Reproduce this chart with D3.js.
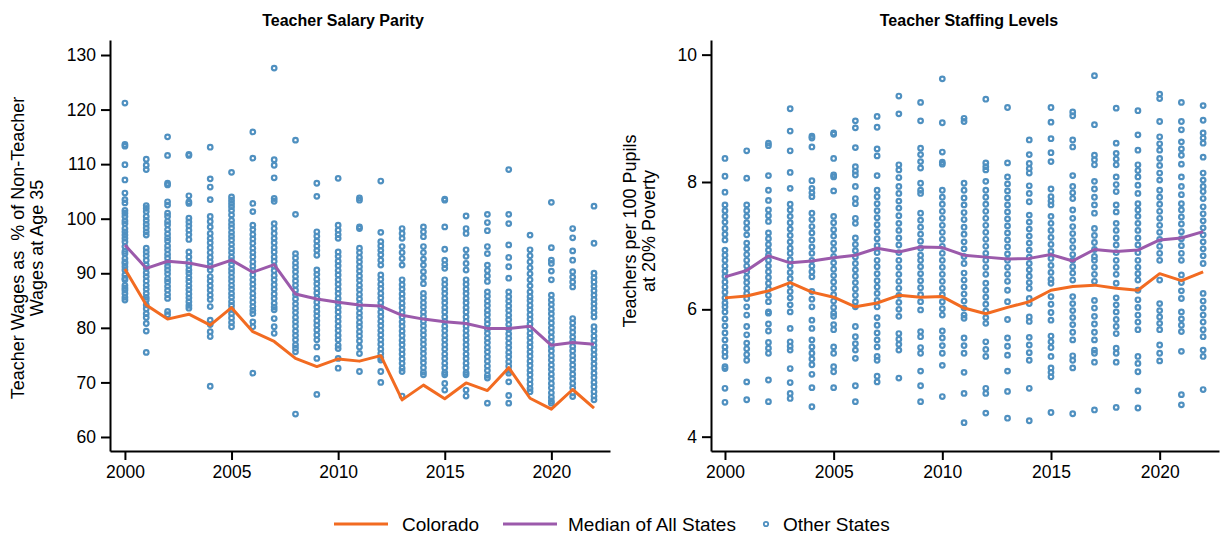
<!DOCTYPE html>
<html>
<head>
<meta charset="utf-8">
<script src="https://cdn.jsdelivr.net/npm/d3@7"></script>
<style>
  body { margin: 0; background: #fff; }
  svg text { font-family: "Liberation Sans", Arial, sans-serif; fill: #000; }
</style>
</head>
<body>
<div id="chart"></div>
<script>
// years and tick labels
const years = d3.range(2000, 2023);
const xTicks = [2000, 2005, 2010, 2015, 2020];
const wageTicks = [60, 70, 80, 90, 100, 110, 120, 130];
const staffTicks = [4, 6, 8, 10];

// Teacher Salary Parity (%)
const coWages = [90.8, 84.2, 81.6, 82.5, 80.5, 83.7, 79.3, 77.5, 74.4, 72.9, 74.3, 73.9, 74.9, 66.8, 69.5, 67.0, 69.9, 68.5, 72.7, 67.1, 65.1, 68.7, 65.3];
const medWages = [95.2, 90.9, 92.2, 91.9, 91.1, 92.4, 90.2, 91.6, 86.2, 85.3, 84.7, 84.2, 84.0, 82.3, 81.6, 81.1, 80.8, 79.9, 79.9, 80.3, 76.8, 77.3, 77.0];
const otherWages = [
  [121.2, 113.6, 113.3, 109.9, 107.1, 104.7, 103.5, 102.9, 101.5, 101.0, 100.4, 99.6, 99.1, 98.2, 97.6, 97.0, 96.4, 95.8, 94.9, 94.0, 93.6, 92.7, 92.1, 91.8, 91.2, 90.6, 89.7, 89.1, 88.8, 87.8, 87.3, 86.9, 86.3, 85.6, 85.1],
  [110.9, 109.8, 109.0, 102.4, 101.9, 101.3, 100.4, 99.7, 99.0, 98.3, 97.6, 97.0, 94.6, 93.9, 93.2, 92.4, 91.5, 90.9, 90.1, 89.4, 88.6, 87.8, 87.1, 86.3, 85.6, 85.1, 84.2, 83.5, 82.6, 81.9, 80.8, 79.4, 75.5],
  [115.0, 111.6, 106.5, 106.2, 103.1, 102.5, 101.0, 100.4, 99.5, 98.9, 98.0, 97.2, 96.5, 95.9, 95.0, 94.3, 93.5, 92.8, 92.0, 91.3, 90.6, 89.9, 89.0, 88.4, 87.6, 86.9, 86.1, 85.4, 83.0, 82.4],
  [111.8, 111.6, 104.2, 103.1, 102.8, 100.1, 99.4, 98.7, 97.9, 97.1, 96.2, 93.9, 93.0, 92.1, 91.4, 90.6, 90.0, 89.2, 88.5, 87.7, 87.0, 86.2, 85.5, 84.8, 84.1, 83.6],
  [113.1, 107.3, 105.8, 103.5, 100.4, 99.5, 98.5, 97.3, 96.4, 95.6, 94.7, 93.8, 92.9, 92.1, 91.3, 90.6, 89.4, 88.6, 87.7, 86.9, 86.0, 85.2, 83.9, 81.4, 80.6, 79.3, 78.4, 69.3],
  [108.5, 104.0, 103.4, 102.8, 102.2, 101.5, 100.7, 99.7, 99.0, 98.3, 97.5, 96.8, 96.1, 95.3, 94.5, 93.8, 93.0, 92.3, 91.6, 90.8, 90.1, 89.3, 88.6, 87.8, 87.1, 86.3, 85.6, 84.8, 84.1, 83.4, 82.6, 81.8, 81.0, 80.2],
  [115.9, 111.1, 102.8, 101.3, 98.8, 98.0, 97.1, 96.3, 95.5, 94.6, 93.8, 93.0, 92.1, 91.3, 90.5, 89.7, 88.8, 88.0, 87.2, 86.3, 85.5, 84.7, 83.9, 83.2, 82.6, 81.1, 80.2, 71.7],
  [127.6, 110.8, 109.8, 107.5, 103.7, 103.2, 99.1, 98.2, 97.3, 96.4, 95.6, 94.7, 93.9, 93.0, 92.2, 91.3, 90.5, 89.6, 88.8, 87.9, 87.1, 86.2, 85.4, 84.5, 83.8, 83.3, 81.7, 80.2, 79.0],
  [114.4, 100.8, 93.6, 92.8, 91.9, 91.1, 90.3, 89.4, 88.6, 87.8, 86.9, 86.1, 85.3, 84.4, 83.6, 82.8, 81.9, 81.1, 80.3, 79.4, 78.6, 77.8, 76.9, 76.3, 75.6, 64.2],
  [106.5, 104.1, 97.6, 96.8, 95.9, 95.0, 94.2, 93.3, 90.6, 89.8, 88.9, 88.1, 87.2, 86.4, 85.5, 84.7, 83.8, 83.0, 82.2, 81.3, 80.5, 79.6, 78.7, 77.8, 76.5, 74.4, 67.8],
  [107.4, 98.8, 97.9, 97.1, 96.4, 93.9, 93.1, 92.2, 91.4, 90.5, 89.7, 88.8, 88.0, 87.1, 86.3, 85.4, 84.6, 83.7, 82.9, 82.0, 81.2, 80.3, 79.5, 78.6, 77.8, 76.8, 76.2, 74.4, 72.6],
  [103.8, 103.4, 98.5, 98.2, 94.6, 93.8, 92.9, 92.1, 91.2, 90.4, 89.5, 88.7, 87.8, 87.0, 86.1, 85.3, 84.4, 83.6, 82.7, 81.9, 81.0, 80.2, 79.3, 78.5, 77.6, 76.5, 75.3, 72.0],
  [106.9, 97.5, 95.8, 95.0, 94.2, 93.4, 92.4, 91.5, 89.7, 88.9, 88.0, 87.2, 86.3, 85.5, 84.6, 83.8, 82.9, 82.1, 81.2, 80.4, 79.5, 78.7, 77.8, 77.0, 76.1, 75.3, 74.5, 74.1, 72.0, 70.0],
  [98.2, 97.3, 96.4, 94.9, 93.8, 92.7, 91.5, 88.8, 87.9, 87.1, 86.2, 85.4, 84.5, 83.7, 82.8, 82.0, 81.1, 80.3, 79.4, 78.6, 77.7, 76.9, 76.0, 75.2, 74.3, 73.5, 72.6, 72.0, 67.5],
  [98.5, 97.6, 96.7, 94.9, 93.8, 92.6, 91.5, 90.3, 89.2, 88.1, 86.3, 85.5, 84.6, 83.8, 82.9, 82.1, 81.2, 80.4, 79.5, 78.7, 77.8, 77.0, 76.1, 75.3, 74.4, 73.6, 72.7, 71.9, 71.4],
  [103.6, 103.4, 98.5, 94.4, 92.4, 91.6, 90.9, 88.8, 88.0, 87.1, 86.3, 85.4, 84.6, 83.7, 82.9, 82.0, 81.2, 80.3, 79.5, 78.6, 77.8, 76.9, 76.1, 75.2, 74.4, 73.5, 72.7, 71.8, 71.4, 69.8, 68.6],
  [100.5, 98.2, 97.3, 94.3, 93.1, 91.8, 90.6, 88.8, 88.0, 87.1, 86.3, 85.4, 84.6, 83.7, 82.9, 82.0, 81.2, 80.3, 79.5, 78.6, 77.8, 76.9, 76.1, 75.2, 74.4, 73.5, 72.7, 71.8, 71.4, 68.6, 67.5],
  [100.8, 99.3, 97.8, 94.9, 93.6, 91.5, 90.5, 89.5, 88.5, 86.6, 85.8, 84.9, 84.1, 83.2, 82.4, 81.5, 80.7, 79.8, 79.0, 78.1, 77.3, 76.4, 75.6, 74.7, 73.9, 73.0, 72.2, 71.3, 70.8, 66.2],
  [109.0, 100.8, 99.1, 95.2, 92.9, 91.2, 89.1, 86.6, 85.7, 84.9, 84.0, 83.2, 82.3, 81.5, 80.6, 79.8, 78.9, 78.1, 77.2, 76.4, 75.5, 74.7, 73.8, 73.0, 72.2, 71.7, 70.1, 67.6, 66.2],
  [97.0, 94.3, 93.2, 92.1, 91.0, 89.9, 88.8, 87.7, 86.6, 85.7, 85.0, 84.1, 83.3, 82.4, 81.6, 80.7, 79.9, 79.0, 78.2, 77.3, 76.5, 75.6, 74.8, 73.9, 73.1, 72.2, 71.4, 70.5, 69.7, 68.9, 68.3],
  [103.0, 94.7, 92.4, 91.8, 90.4, 88.8, 86.0, 85.1, 84.3, 83.4, 82.6, 81.7, 80.9, 80.0, 79.2, 78.3, 77.5, 76.6, 75.8, 74.9, 74.1, 73.2, 72.4, 71.5, 70.7, 69.8, 69.0, 68.1, 67.3, 66.6, 66.2],
  [98.2, 96.5, 94.1, 92.4, 90.3, 89.3, 88.4, 87.5, 81.7, 80.9, 80.0, 79.2, 78.3, 77.5, 76.6, 75.8, 74.9, 74.1, 73.2, 72.4, 71.5, 70.7, 69.8, 69.0, 68.1, 67.4],
  [102.3, 95.5, 90.0, 89.2, 88.4, 87.6, 86.8, 86.0, 85.2, 84.4, 83.6, 82.8, 82.0, 80.2, 79.4, 78.5, 77.7, 76.8, 76.0, 75.1, 74.3, 73.4, 72.6, 71.7, 70.9, 70.0, 69.2, 68.3, 67.5, 66.8]
];

// Teacher Staffing Levels (teachers per 100 pupils)
const coStaff = [6.18, 6.21, 6.29, 6.42, 6.27, 6.19, 6.04, 6.10, 6.22, 6.19, 6.20, 6.02, 5.93, 6.03, 6.12, 6.30, 6.36, 6.38, 6.33, 6.30, 6.56, 6.45, 6.59];
const medStaff = [6.51, 6.61, 6.84, 6.73, 6.76, 6.81, 6.85, 6.96, 6.90, 6.98, 6.97, 6.85, 6.82, 6.79, 6.80, 6.86, 6.76, 6.94, 6.91, 6.93, 7.09, 7.12, 7.22];
const otherStaff = [
  [8.37, 8.09, 7.84, 7.64, 7.55, 7.46, 7.37, 7.27, 7.18, 7.09, 6.93, 6.85, 6.77, 6.68, 6.60, 6.52, 6.43, 6.35, 6.27, 6.18, 6.10, 6.04, 5.96, 5.85, 5.74, 5.63, 5.52, 5.41, 5.33, 5.26, 5.10, 5.07, 4.76, 4.54],
  [8.49, 8.06, 7.64, 7.55, 7.46, 7.36, 7.27, 7.17, 7.04, 6.95, 6.86, 6.77, 6.68, 6.59, 6.50, 6.42, 6.33, 6.25, 6.17, 6.04, 5.91, 5.73, 5.60, 5.47, 5.38, 5.29, 5.20, 4.86, 4.58],
  [8.61, 8.57, 8.10, 7.87, 7.71, 7.56, 7.47, 7.38, 7.20, 7.11, 7.02, 6.93, 6.85, 6.77, 6.68, 6.59, 6.50, 6.41, 6.32, 6.22, 6.12, 5.96, 5.94, 5.77, 5.66, 5.48, 5.39, 5.31, 4.89, 4.55],
  [9.15, 8.80, 8.49, 8.15, 7.90, 7.65, 7.56, 7.46, 7.36, 7.26, 7.16, 7.06, 6.96, 6.88, 6.78, 6.68, 6.58, 6.48, 6.38, 6.28, 6.18, 6.07, 5.96, 5.70, 5.49, 5.42, 5.36, 5.07, 4.85, 4.68, 4.60],
  [8.72, 8.69, 8.55, 8.02, 7.90, 7.83, 7.77, 7.51, 7.41, 7.30, 7.20, 7.09, 6.98, 6.88, 6.77, 6.68, 6.59, 6.51, 6.28, 6.16, 6.04, 5.83, 5.70, 5.52, 5.41, 5.31, 5.22, 5.13, 4.98, 4.77, 4.47],
  [8.77, 8.75, 8.37, 8.11, 8.08, 7.86, 7.46, 7.36, 7.25, 7.15, 7.04, 6.94, 6.83, 6.73, 6.63, 6.53, 6.43, 6.33, 6.23, 6.13, 6.03, 5.94, 5.89, 5.76, 5.68, 5.41, 5.31, 5.10, 5.02, 4.77],
  [8.96, 8.85, 8.54, 8.24, 8.17, 8.11, 7.93, 7.74, 7.66, 7.43, 7.35, 7.12, 7.02, 6.92, 6.82, 6.72, 6.62, 6.52, 6.42, 6.32, 6.22, 6.12, 6.04, 5.73, 5.57, 5.46, 5.36, 5.23, 4.80, 4.55],
  [9.03, 8.86, 8.52, 8.41, 8.10, 7.87, 7.77, 7.66, 7.55, 7.44, 7.33, 7.22, 7.11, 7.00, 6.89, 6.77, 6.67, 6.56, 6.45, 6.35, 6.25, 6.14, 6.04, 5.87, 5.75, 5.63, 5.52, 5.41, 5.26, 5.20, 4.95, 4.86],
  [9.35, 9.07, 8.27, 8.19, 8.07, 7.93, 7.82, 7.70, 7.59, 7.47, 7.35, 7.24, 7.12, 7.01, 6.89, 6.77, 6.66, 6.55, 6.44, 6.33, 6.22, 6.11, 6.00, 5.89, 5.62, 5.53, 5.45, 5.36, 4.92],
  [9.25, 8.96, 8.53, 8.43, 8.32, 8.22, 7.98, 7.87, 7.82, 7.51, 7.40, 7.29, 7.18, 7.07, 6.96, 6.85, 6.77, 6.67, 6.56, 6.45, 6.34, 6.23, 6.12, 5.99, 5.65, 5.57, 5.40, 5.31, 5.03, 4.80, 4.55],
  [9.62, 8.93, 8.47, 8.31, 8.28, 7.87, 7.76, 7.65, 7.54, 7.43, 7.32, 7.21, 7.10, 6.99, 6.88, 6.77, 6.66, 6.55, 6.44, 6.33, 6.23, 6.12, 6.01, 5.91, 5.66, 5.55, 5.43, 5.31, 5.12, 4.63],
  [9.00, 8.95, 7.98, 7.87, 7.75, 7.64, 7.52, 7.41, 7.29, 7.18, 7.06, 6.95, 6.83, 6.72, 6.57, 6.46, 6.35, 6.24, 6.13, 6.02, 5.91, 5.86, 5.55, 5.43, 5.31, 5.01, 4.68, 4.22],
  [9.30, 8.30, 8.24, 8.19, 8.01, 7.87, 7.76, 7.65, 7.54, 7.43, 7.32, 7.21, 7.10, 6.99, 6.88, 6.77, 6.66, 6.55, 6.41, 6.30, 6.19, 6.08, 5.97, 5.87, 5.78, 5.49, 5.37, 5.26, 4.76, 4.68, 4.37],
  [9.17, 8.30, 8.08, 7.97, 7.86, 7.75, 7.64, 7.53, 7.42, 7.31, 7.20, 7.09, 6.98, 6.87, 6.77, 6.66, 6.55, 6.44, 6.30, 6.12, 5.84, 5.55, 5.42, 5.28, 5.03, 4.71, 4.29],
  [8.66, 8.43, 8.29, 8.21, 8.14, 7.94, 7.82, 7.69, 7.48, 7.37, 7.26, 7.15, 7.04, 6.93, 6.82, 6.72, 6.62, 6.52, 6.42, 6.33, 6.17, 6.09, 5.88, 5.81, 5.56, 5.44, 5.32, 5.20, 4.76, 4.25],
  [9.17, 8.94, 8.68, 8.46, 8.32, 7.89, 7.77, 7.70, 7.64, 7.46, 7.35, 7.24, 7.13, 7.02, 6.91, 6.80, 6.69, 6.58, 6.47, 6.41, 6.20, 6.08, 5.95, 5.83, 5.58, 5.49, 5.40, 5.26, 5.08, 5.01, 4.94, 4.38],
  [9.10, 9.04, 8.66, 8.55, 8.10, 7.93, 7.83, 7.74, 7.56, 7.43, 7.30, 7.19, 7.08, 6.97, 6.86, 6.77, 6.67, 6.57, 6.46, 6.20, 6.09, 5.98, 5.87, 5.76, 5.64, 5.52, 5.27, 5.20, 5.08, 4.36],
  [9.67, 8.90, 8.42, 8.35, 8.27, 8.01, 7.89, 7.76, 7.64, 7.51, 7.27, 7.16, 7.05, 6.94, 6.83, 6.77, 6.66, 6.55, 6.44, 6.14, 6.02, 5.89, 5.77, 5.64, 5.52, 5.36, 5.31, 5.17, 4.42],
  [9.16, 8.61, 8.45, 8.36, 8.27, 8.08, 7.96, 7.85, 7.64, 7.53, 7.35, 7.24, 7.12, 7.01, 6.89, 6.77, 6.66, 6.55, 6.41, 6.18, 6.07, 5.96, 5.84, 5.73, 5.62, 5.39, 5.31, 5.17, 4.46],
  [9.12, 8.74, 8.50, 8.27, 8.18, 8.08, 7.95, 7.82, 7.66, 7.56, 7.46, 7.35, 7.24, 7.12, 7.01, 6.89, 6.77, 6.66, 6.56, 6.46, 6.30, 6.15, 6.03, 5.91, 5.80, 5.68, 5.26, 5.15, 5.02, 4.72, 4.45],
  [9.38, 9.31, 8.95, 8.71, 8.60, 8.50, 8.37, 8.26, 8.14, 8.03, 7.87, 7.76, 7.65, 7.54, 7.43, 7.32, 7.21, 7.10, 6.99, 6.88, 6.77, 6.46, 6.09, 5.98, 5.88, 5.78, 5.68, 5.44, 5.31, 5.19],
  [9.25, 8.95, 8.82, 8.63, 8.52, 8.42, 8.28, 8.08, 7.93, 7.80, 7.66, 7.56, 7.45, 7.34, 7.22, 7.11, 7.00, 6.88, 6.77, 6.54, 6.42, 6.29, 6.17, 5.96, 5.85, 5.75, 5.65, 5.34, 4.66, 4.50],
  [9.20, 8.97, 8.77, 8.69, 8.61, 8.39, 8.14, 8.03, 7.93, 7.85, 7.74, 7.61, 7.50, 7.39, 7.28, 7.17, 7.06, 6.95, 6.84, 6.72, 6.25, 6.13, 6.02, 5.91, 5.80, 5.68, 5.57, 5.36, 5.26, 4.74]
];

const orange = "#f26b21";
const purple = "#9b5aab";
const blue = "#4f90c0";

const svg = d3.select("#chart").append("svg")
    .attr("width", 1222)
    .attr("height", 535);

function drawPanel(opts) {
    const x = d3.scaleLinear().domain(opts.xDomain).range(opts.xRange);
    const y = d3.scaleLinear().domain(opts.yDomain).range([451, 40]);
    const g = svg.append("g");

    // flatten the per-year dots
    const dots = [];
    opts.other.forEach((vals, i) => vals.forEach(v => dots.push({ year: years[i], v: v })));

    g.append("g").selectAll("circle")
        .data(dots)
        .enter().append("circle")
        .attr("cx", d => x(d.year))
        .attr("cy", d => y(d.v))
        .attr("r", 2.3)
        .attr("fill", "none")
        .attr("stroke", blue)
        .attr("stroke-width", 2.2);

    const line = d3.line().x((d, i) => x(years[i])).y(d => y(d));

    g.append("path")
        .datum(opts.median)
        .attr("d", line)
        .attr("fill", "none")
        .attr("stroke", purple)
        .attr("stroke-width", 3)
        .attr("stroke-linejoin", "round");

    g.append("path")
        .datum(opts.colorado)
        .attr("d", line)
        .attr("fill", "none")
        .attr("stroke", orange)
        .attr("stroke-width", 3)
        .attr("stroke-linejoin", "round");

    const xAxis = g.append("g")
        .attr("transform", "translate(0,451)")
        .call(d3.axisBottom(x).tickValues(xTicks).tickFormat(d3.format("d"))
            .tickSize(9).tickSizeOuter(0).tickPadding(6));
    const yAxis = g.append("g")
        .attr("transform", `translate(${opts.xRange[0]},0)`)
        .call(d3.axisLeft(y).tickValues(opts.yTicks).tickFormat(d3.format("d"))
            .tickSize(9).tickSizeOuter(0).tickPadding(5));

    [xAxis, yAxis].forEach(a => {
        a.selectAll("path, line").attr("stroke", "#000").attr("stroke-width", 2);
        a.selectAll("text").style("font-size", "17.5px").attr("fill", "#000");
    });

    g.append("text")
        .attr("x", opts.titleX)
        .attr("y", 26)
        .attr("text-anchor", "middle")
        .style("font-size", "16px")
        .style("font-weight", "bold")
        .text(opts.title);

    opts.yLabel.forEach((t, i) => {
        g.append("text")
            .attr("transform", `translate(${opts.yLabelX[i]},${opts.yLabelY}) rotate(-90)`)
            .attr("text-anchor", "middle")
            .attr("dominant-baseline", "central")
            .style("font-size", "18px")
            .style("white-space", "pre")
            .text(t);
    });
}

drawPanel({
    xDomain: [1999.3, 2022.75], xRange: [110, 610],
    yDomain: [57.43, 132.75], yTicks: wageTicks,
    other: otherWages, median: medWages, colorado: coWages,
    title: "Teacher Salary Parity", titleX: 343,
    yLabel: ["Teacher Wages as  % of Non-Teacher", "Wages at Age 35"],
    yLabelX: [18, 37], yLabelY: 248
});

drawPanel({
    xDomain: [1999.357, 2022.73], xRange: [711, 1219],
    yDomain: [3.775, 10.23], yTicks: staffTicks,
    other: otherStaff, median: medStaff, colorado: coStaff,
    title: "Teacher Staffing Levels", titleX: 969,
    yLabel: ["Teachers per 100 Pupils", "at 20% Poverty"],
    yLabelX: [630, 649], yLabelY: 231
});

// legend
const legend = svg.append("g").attr("transform", "translate(0,524)");
legend.append("line").attr("x1", 334).attr("x2", 388).attr("y1", 0).attr("y2", 0)
    .attr("stroke", orange).attr("stroke-width", 3);
legend.append("text").attr("x", 402).attr("y", 0).attr("dominant-baseline", "central")
    .style("font-size", "19px").text("Colorado");
legend.append("line").attr("x1", 503).attr("x2", 557).attr("y1", 0).attr("y2", 0)
    .attr("stroke", purple).attr("stroke-width", 3);
legend.append("text").attr("x", 568).attr("y", 0).attr("dominant-baseline", "central")
    .style("font-size", "19px").text("Median of All States");
legend.append("circle").attr("cx", 766).attr("cy", 0).attr("r", 2.2)
    .attr("fill", "none").attr("stroke", blue).attr("stroke-width", 1.8);
legend.append("text").attr("x", 783).attr("y", 0).attr("dominant-baseline", "central")
    .style("font-size", "19px").text("Other States");
</script>
</body>
</html>
